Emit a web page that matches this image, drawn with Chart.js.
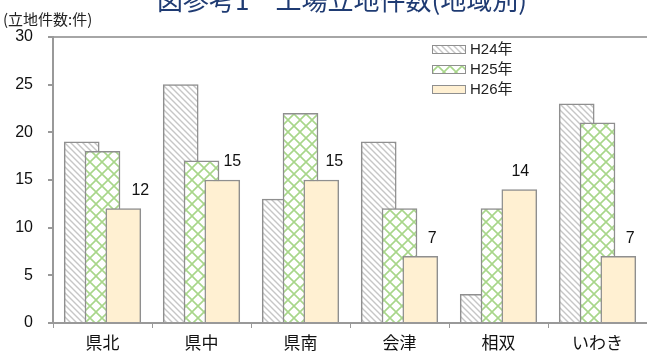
<!DOCTYPE html>
<html>
<head>
<meta charset="utf-8">
<script src="https://cdn.jsdelivr.net/npm/chart.js@4"></script>
<style>
  body { margin: 0; background: #fff; }
</style>
</head>
<body>
<canvas id="c" width="647" height="353"></canvas>
<script>
// data
const regions = ['県北', '県中', '県南', '会津', '相双', 'いわき'];
const seriesNames = ['H24年', 'H25年', 'H26年'];
const h24 = [19, 25, 13, 19, 3, 23];
const h25 = [18, 17, 22, 12, 12, 21];
const h26 = [12, 15, 15, 7, 14, 7];
const yTicks = [0, 5, 10, 15, 20, 25, 30];

const FONT = '"Liberation Sans", "Noto Sans CJK JP", sans-serif';
const JP = '"Noto Sans CJK JP", sans-serif';
const EDGE = '#8f8f8f';

const canvas = document.getElementById('c');
const ctx = canvas.getContext('2d');

// fills
function diagPattern() {
  const t = document.createElement('canvas'); t.width = 6; t.height = 6;
  const g = t.getContext('2d');
  g.fillStyle = '#fff'; g.fillRect(0, 0, 6, 6);
  g.strokeStyle = '#c6c6c6'; g.lineWidth = 1.4;
  g.beginPath();
  g.moveTo(-1, -1); g.lineTo(7, 7);
  g.moveTo(-1, 5); g.lineTo(1, 7);
  g.moveTo(5, -1); g.lineTo(7, 1);
  g.stroke();
  return ctx.createPattern(t, 'repeat');
}
function latticePattern() {
  const t = document.createElement('canvas'); t.width = 12; t.height = 12;
  const g = t.getContext('2d');
  g.fillStyle = '#fff'; g.fillRect(0, 0, 12, 12);
  g.strokeStyle = '#a8d68a'; g.lineWidth = 1.6;
  g.beginPath();
  g.moveTo(-1, -1); g.lineTo(13, 13);
  g.moveTo(13, -1); g.lineTo(-1, 13);
  g.stroke();
  return ctx.createPattern(t, 'repeat');
}
const fills = [diagPattern(), latticePattern(), '#fff0d2'];

// bars overlap: each series sits a bit to the right of the previous
const shift = [-0.21, 0, 0.21];
const series = [h24, h25, h26];
const labelShift = [17, 10, 13, 12, 1, 12];

const datasets = series.map((vals, k) => ({
  label: seriesNames[k],
  data: vals.map((v, i) => ({ x: i + shift[k], y: v })),
  backgroundColor: fills[k],
  borderColor: EDGE,
  borderWidth: 1.5,
  barThickness: 35,
  grouped: false,
  order: 3 - k,
  xAxisID: 'xb',
  yAxisID: 'y'
}));

const extras = {
  id: 'extras',
  afterDraw(chart) {
    const c = chart.ctx;
    c.save();
    // title (clipped at the top like the reference)
    c.fillStyle = '#1f3b73';
    c.font = '26px ' + JP;
    c.textAlign = 'center';
    c.textBaseline = 'alphabetic';
    c.fillText('図参考1　工場立地件数(地域別)', 342, 10);

    // unit label
    c.fillStyle = '#222';
    c.font = '15px ' + JP;
    c.textAlign = 'left';
    c.textBaseline = 'middle';
    c.fillText('(立地件数:件)', 3, 19);

    // legend
    const rows = [49, 69, 89];
    seriesNames.forEach((n, k) => {
      c.fillStyle = fills[k];
      c.fillRect(432, rows[k] - 4, 33, 8);
      c.strokeStyle = EDGE; c.lineWidth = 1;
      c.strokeRect(432.5, rows[k] - 3.5, 33, 8);
      c.fillStyle = '#222';
      c.font = '15px ' + FONT;
      c.textAlign = 'left';
      c.fillText(n, 470, rows[k] + 1);
    });

    // value labels on H26 bars
    const meta = chart.getDatasetMeta(2);
    c.fillStyle = '#111';
    c.font = '16px ' + FONT;
    c.textAlign = 'center';
    c.textBaseline = 'middle';
    meta.data.forEach((bar, i) => {
      c.fillText(String(h26[i]), bar.x + labelShift[i], bar.y - 18);
    });
    c.restore();
  }
};

new Chart(ctx, {
  type: 'bar',
  data: { labels: regions, datasets },
  options: {
    responsive: false,
    animation: false,
    layout: { padding: { top: 37, right: 0, left: 0, bottom: 0 } },
    plugins: { legend: { display: false }, tooltip: { enabled: false } },
    scales: {
      x: {
        type: 'category',
        labels: regions,
        min: regions[0],
        max: regions[regions.length - 1],
        offset: true,
        afterFit: s => { s.height = 30; },
        grid: { offset: true, drawOnChartArea: false, tickLength: 5, color: '#999', lineWidth: 1 },
        border: { color: '#999', width: 2 },
        ticks: { padding: 4, color: '#111', font: { family: JP, size: 17 } }
      },
      xb: {
        type: 'linear',
        display: false,
        offset: false,
        min: -0.5,
        max: regions.length - 0.5
      },
      y: {
        min: 0,
        max: 30,
        afterFit: s => { s.width = 53; },
        afterBuildTicks: s => { s.ticks = yTicks.map(v => ({ value: v })); },
        grid: {
          color: c => (c.tick && c.tick.value === 30 ? '#a6a6a6' : 'rgba(0,0,0,0)'),
          tickColor: '#999',
          tickLength: 5,
          lineWidth: 2
        },
        border: { color: '#999', width: 2 },
        ticks: { padding: 15, color: '#111', font: { family: FONT, size: 16 } }
      }
    }
  },
  plugins: [extras]
});
</script>
</body>
</html>
